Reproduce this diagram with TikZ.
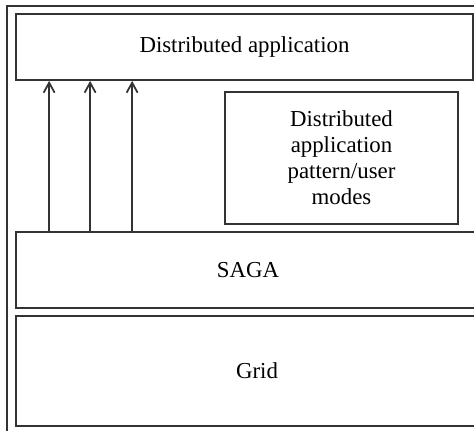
\documentclass[tikz,border=0pt]{standalone}
\usepackage{tikz}
\usepackage{xcolor}
\usepackage{fontspec}
\setmainfont{Liberation Serif}
\usetikzlibrary{arrows.meta,positioning,calc}
\definecolor{Ink}{HTML}{333333}

\begin{document}
\begin{tikzpicture}[x=0.02cm,y=-0.02cm,
    layerbox/.style={draw=Ink,line width=1pt,inner sep=0pt,font=\fontsize{13}{14.8}\selectfont},
    uparrow/.style={-{Straight Barb[length=2mm,width=2.2mm]},line width=1pt,Ink}]
  \useasboundingbox (0,0) rectangle (474,431);
  \clip (0,0) rectangle (474,431);
  \draw[Ink,line width=1pt] (7,6) rectangle (520,460);
  \node[layerbox,minimum width=457*0.02cm,minimum height=66*0.02cm] (app) at (244.5,47) {Distributed application};
  \node[layerbox,minimum width=233*0.02cm,minimum height=132*0.02cm,align=center] (pattern) at (341.5,158)
    {Distributed\\application\\pattern/user\\modes};
  \node[layerbox,minimum width=464*0.02cm,minimum height=76*0.02cm] (saga) at (248,270) {SAGA};
  \node[layerbox,minimum width=482*0.02cm,minimum height=110*0.02cm] (grid) at (257,371) {Grid};
  \foreach \dx in {34,75,117}
    \draw[uparrow] ($(saga.north west)+(\dx,0)$) -- ($(app.south west)+(\dx,0)$);
\end{tikzpicture}
\end{document}
